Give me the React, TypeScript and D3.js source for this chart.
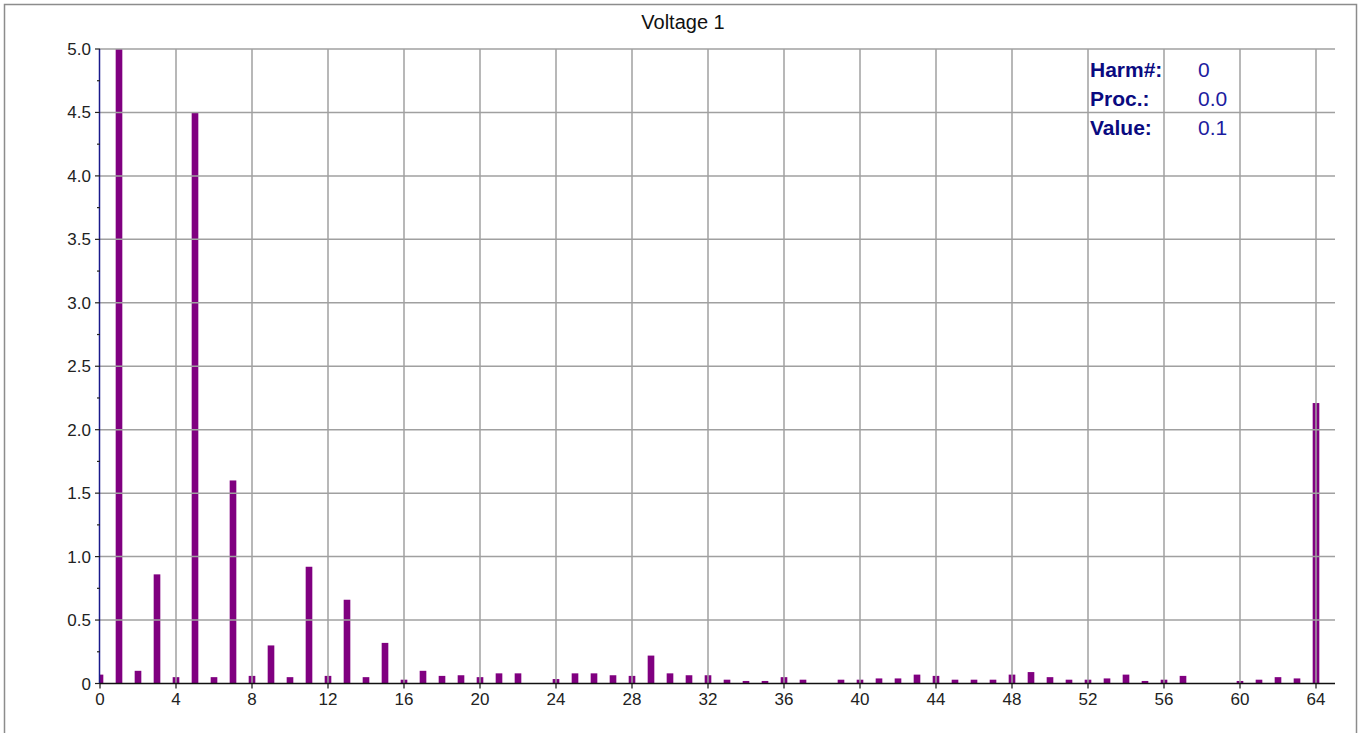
import React from "react";
import * as d3 from "d3";

const title = "Voltage 1";
const harmonicValues: number[] = [
  0.07, 5.0, 0.1, 0.86, 0.05, 4.5, 0.05, 1.6, 0.06, 0.3,
  0.05, 0.92, 0.06, 0.66, 0.05, 0.32, 0.03, 0.1, 0.06, 0.065,
  0.05, 0.08, 0.08, 0, 0.035, 0.08, 0.08, 0.065, 0.06, 0.22,
  0.08, 0.065, 0.065, 0.03, 0.02, 0.02, 0.05, 0.03, 0, 0.03,
  0.03, 0.04, 0.04, 0.07, 0.06, 0.03, 0.03, 0.03, 0.07, 0.09,
  0.05, 0.03, 0.03, 0.04, 0.07, 0.02, 0.03, 0.06, 0, 0,
  0.02, 0.03, 0.05, 0.04, 2.21,
];
const xTicks: number[] = [0, 4, 8, 12, 16, 20, 24, 28, 32, 36, 40, 44, 48, 52, 56, 60, 64];
const yTicks: number[] = [0, 0.5, 1.0, 1.5, 2.0, 2.5, 3.0, 3.5, 4.0, 4.5, 5.0];
const yMinorTicks: number[] = [0.25, 0.75, 1.25, 1.75, 2.25, 2.75, 3.25, 3.75, 4.25, 4.75];
const infoLabels: string[] = ["Harm#:", "Proc.:", "Value:"];
const infoValues: string[] = ["0", "0.0", "0.1"];

const W = 1368;
const H = 733;
const L = 100, R = 1335, T = 49, B = 683.5;

export default function App() {
  const x = d3.scaleLinear().domain([0, 65]).range([L, R]);
  const y = d3.scaleLinear().domain([0, 5]).range([B, T]);
  const barW = 0.35 * (x(1) - x(0));
  const font = "'Liberation Sans', Arial, sans-serif";

  return (
    <svg width={W} height={H} style={{ position: "absolute", left: 0, top: 0, background: "#fff" }} fontFamily={font}>
      <defs>
        <clipPath id="plot">
          <rect x={L} y={T} width={R - L} height={B - T} />
        </clipPath>
      </defs>
      <rect x={4.5} y={4.5} width={1352} height={760} fill="#fff" stroke="#8c8c8c" strokeWidth={1.5} />
      <text x={683} y={29} textAnchor="middle" fontSize={20} fill="#111">{title}</text>

      {/* bars */}
      <g clipPath="url(#plot)">
        {harmonicValues.map((v, i) =>
          v > 0 ? (
            <rect key={i} x={x(i) - barW / 2} y={y(v)} width={barW} height={B - y(v)} fill="#800080" />
          ) : null
        )}
      </g>

      {/* grid */}
      <g stroke="#a0a0a0" strokeWidth={1.5}>
        {yTicks.filter((t) => t > 0).map((t) => (
          <line key={"h" + t} x1={L} x2={R} y1={y(t)} y2={y(t)} />
        ))}
        {xTicks.filter((t) => t > 0).map((t) => (
          <line key={"v" + t} x1={x(t)} x2={x(t)} y1={T} y2={B} />
        ))}
      </g>

      {/* y axis */}
      <line x1={L - 0.5} x2={L - 0.5} y1={T} y2={B} stroke="#1a1a8c" strokeWidth={1.5} />
      {yTicks.map((t) => (
        <g key={"yt" + t}>
          <line x1={L - 5} x2={L} y1={y(t)} y2={y(t)} stroke="#222" strokeWidth={1.2} />
          <text x={91} y={y(t) + 6} textAnchor="end" fontSize={17} fill="#222">
            {t === 0 ? "0" : d3.format(".1f")(t)}
          </text>
        </g>
      ))}
      {yMinorTicks.map((t) => (
        <line key={"ym" + t} x1={L - 3} x2={L} y1={y(t)} y2={y(t)} stroke="#222" strokeWidth={1.2} />
      ))}

      {/* x axis */}
      <line x1={L} x2={R} y1={B} y2={B} stroke="#111" strokeWidth={1.5} />
      {xTicks.map((t) => (
        <g key={"xt" + t}>
          <line x1={x(t)} x2={x(t)} y1={B} y2={B + 5} stroke="#111" strokeWidth={1.2} />
          <text x={x(t)} y={705} textAnchor="middle" fontSize={17} fill="#222">{t}</text>
        </g>
      ))}

      {/* info box */}
      {infoLabels.map((lab, i) => (
        <g key={lab}>
          <text x={1090} y={77 + i * 29} fontSize={21} fontWeight="bold" fill="#0a0a80">{lab}</text>
          <text x={1198} y={77 + i * 29} fontSize={21} fill="#1c1ca0">{infoValues[i]}</text>
        </g>
      ))}
    </svg>
  );
}
